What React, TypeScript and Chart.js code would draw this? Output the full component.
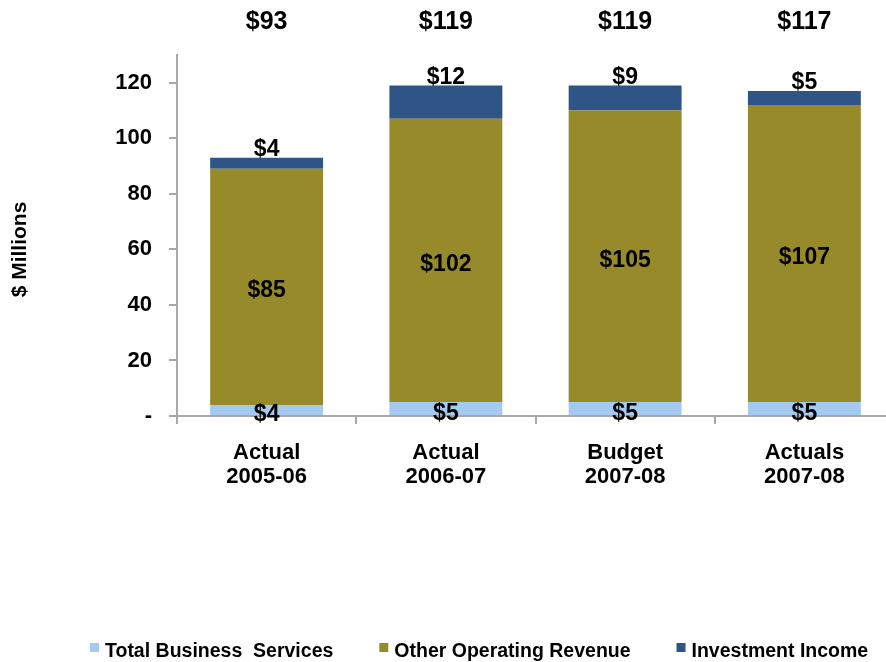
import React, { useEffect, useRef } from "react";
import { Chart, registerables } from "chart.js";

Chart.register(...registerables);

const categories: string[][] = [
  ["Actual", "2005-06"],
  ["Actual", "2006-07"],
  ["Budget", "2007-08"],
  ["Actuals", "2007-08"],
];
const seriesNames = ["Total Business  Services", "Other Operating Revenue", "Investment Income"];
const businessServices = [4, 5, 5, 5];
const otherOperating = [85, 102, 105, 107];
const investmentIncome = [4, 12, 9, 5];
const yTickValues = [0, 20, 40, 60, 80, 100, 120];
const yMax = 130;
const yTitle = "$ Millions";
const colors = ["#A6C9EF", "#968A2A", "#2F5587"];

const FONT = "'Liberation Sans', Arial, sans-serif";
const NARROW = "'Liberation Sans Narrow', 'Arial Narrow', 'Liberation Sans', sans-serif";
const AXIS_COLOR = "#A8A8A8";

const labelsPlugin = {
  id: "labelsPlugin",
  afterDatasetsDraw(chart: any) {
    const ctx = chart.ctx;
    const area = chart.chartArea;
    ctx.save();
    ctx.fillStyle = "#000";
    ctx.textAlign = "center";
    ctx.textBaseline = "middle";
    ctx.font = `bold 23px ${FONT}`;
    const n = chart.data.datasets.length;
    for (let i = 0; i < n; i++) {
      const meta = chart.getDatasetMeta(i);
      const data = chart.data.datasets[i].data as number[];
      meta.data.forEach((el: any, j: number) => {
        const text = "$" + Math.round(data[j]);
        let y: number;
        if (i === 0) y = (el.y + el.base) / 2 + 5;
        else if (i === n - 1) y = el.y - 8;
        else y = (el.y + el.base) / 2 + 4;
        ctx.fillText(text, el.x, y);
      });
    }
    // totals
    ctx.font = `bold 25px ${FONT}`;
    const lastMeta = chart.getDatasetMeta(n - 1);
    lastMeta.data.forEach((el: any, j: number) => {
      let total = 0;
      for (let i = 0; i < n; i++) total += Math.round((chart.data.datasets[i].data as number[])[j]);
      ctx.fillText("$" + total, el.x, area.top - 33);
    });
    // y title
    ctx.save();
    ctx.translate(20, (area.top + area.bottom) / 2 + 14);
    ctx.rotate(-Math.PI / 2);
    ctx.font = `bold 21px ${FONT}`;
    ctx.fillText(yTitle, 0, 0);
    ctx.restore();
    // legend
    ctx.font = `bold 19.5px ${NARROW}`;
    ctx.textAlign = "left";
    let x = 90;
    const ly = 651;
    chart.data.datasets.forEach((ds: any, i: number) => {
      ctx.fillStyle = colors[i];
      ctx.fillRect(x, ly - 8, 9, 9);
      ctx.fillStyle = "#000";
      ctx.fillText(ds.label, x + 15, ly + 1);
      x += 15 + ctx.measureText(ds.label).width + 46;
    });
    ctx.restore();
  },
};

export default function App() {
  const ref = useRef<HTMLCanvasElement | null>(null);
  useEffect(() => {
    if (!ref.current) return;
    const seriesValues = [businessServices, otherOperating, investmentIncome];
    const chart = new Chart(ref.current, {
      type: "bar",
      data: {
        labels: categories,
        datasets: seriesNames.map((name, i) => ({
          label: name,
          data: seriesValues[i],
          backgroundColor: colors[i],
          borderWidth: 0,
          barPercentage: 0.63,
          categoryPercentage: 1,
        })),
      },
      options: {
        responsive: false,
        animation: false,
        devicePixelRatio: 1,
        layout: { padding: { top: 55, left: 0, right: 0, bottom: 0 } },
        plugins: { legend: { display: false }, tooltip: { enabled: false } },
        scales: {
          x: {
            stacked: true,
            border: { display: true, color: AXIS_COLOR, width: 2 },
            grid: { display: true, drawOnChartArea: false, drawTicks: true, tickLength: 8, color: AXIS_COLOR, lineWidth: 2 },
            ticks: { color: "#000", font: { family: FONT, size: 22, weight: "bold", lineHeight: 1.1 }, padding: 17, maxRotation: 0 },
            afterFit(scale: any) { scale.height = 246; },
          },
          y: {
            stacked: true,
            min: 0,
            max: yMax,
            border: { display: true, color: AXIS_COLOR, width: 2 },
            grid: { display: true, drawOnChartArea: false, drawTicks: true, tickLength: 8, color: AXIS_COLOR, lineWidth: 2 },
            afterBuildTicks(axis: any) {
              axis.ticks = yTickValues.map((v) => ({ value: v }));
            },
            ticks: {
              color: "#000",
              font: { family: FONT, size: 22, weight: "bold" },
              padding: 17,
              callback: (v: any) => (Number(v) === 0 ? "-" : String(v)),
            },
            afterFit(scale: any) { scale.width = 177; },
          },
        },
      },
      plugins: [labelsPlugin],
    });
    return () => chart.destroy();
  }, []);
  return (
    <div style={{ position: "absolute", left: 0, top: 0, width: 886, height: 662, overflow: "hidden", background: "#fff" }}>
      <canvas ref={ref} width={894} height={662} style={{ width: 894, height: 662, display: "block" }} />
    </div>
  );
}
